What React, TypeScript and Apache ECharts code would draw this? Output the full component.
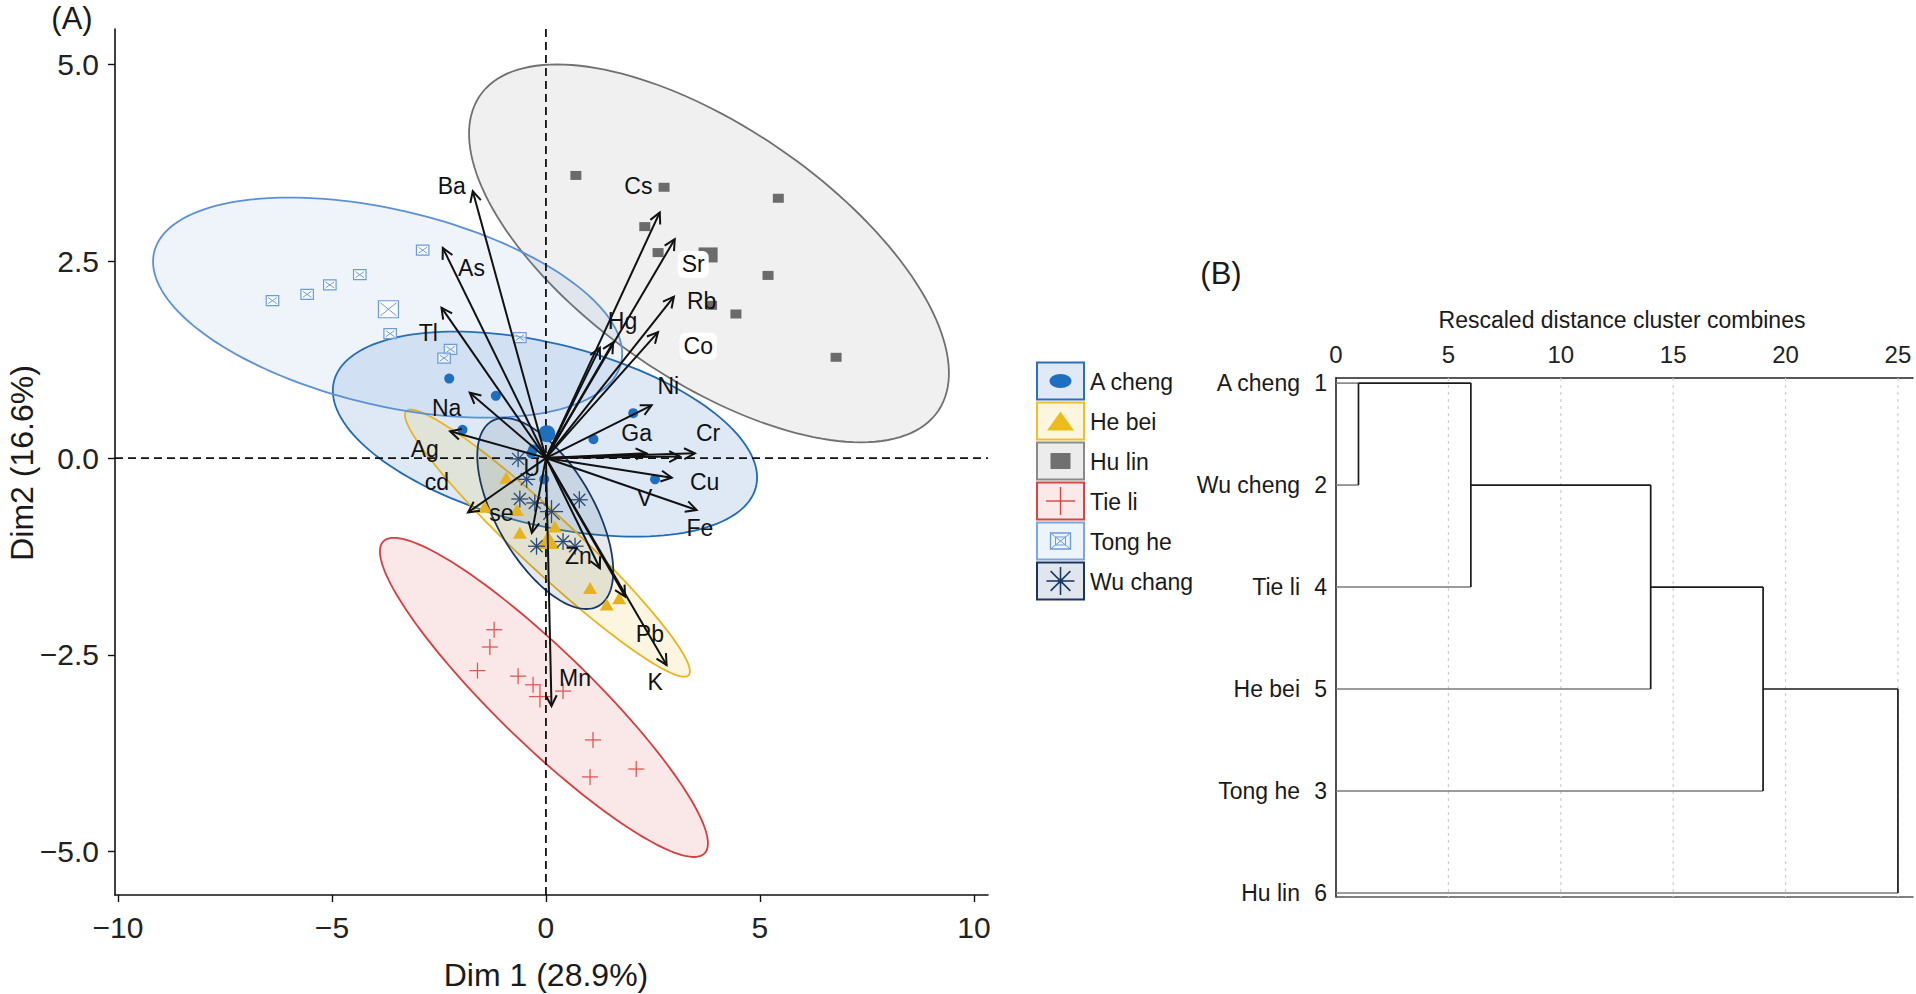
import React, { useEffect, useRef } from "react";
import * as echarts from "echarts";

const FONT = "'Liberation Sans', Arial, Helvetica, sans-serif";

// ---------- Panel A: PCA biplot ----------
const groupNames = ["A cheng", "He bei", "Hu lin", "Tie li", "Tong he", "Wu chang"];
const pointColors = ["#1f6fc0", "#e6b31e", "#6b6b6b", "#dc5a56", "#6d9bd8", "#2b4b75"];
const ellipseStroke = ["#1f6bb5", "#e9b41f", "#707070", "#d23f3f", "#5b90d8", "#1b3865"];
const ellipseFill = [
  "rgba(31,110,190,0.15)",
  "rgba(236,200,60,0.16)",
  "rgba(120,120,120,0.11)",
  "rgba(215,60,60,0.12)",
  "rgba(100,150,215,0.10)",
  "rgba(30,56,100,0.11)",
];

const aChengPoints = [[-2.26, 1.01], [-1.17, 0.79], [-1.95, 0.36], [2.04, 0.57], [1.11, 0.24], [-0.3, 0.11], [-0.34, 0.06], [2.55, -0.27], [-0.04, -0.27]];
const aChengMean = [0.02, 0.31];
const heBeiPoints = [[-0.93, -0.25], [-0.61, -0.95], [0.21, -0.87], [1.03, -1.65], [1.42, -1.86], [1.71, -1.78], [-0.68, -0.66], [-1.43, -0.62]];
const heBeiMean = [0.05, -1.04];
const huLinPoints = [[0.7, 3.59], [2.76, 3.44], [5.43, 3.3], [2.31, 2.94], [2.62, 2.61], [5.19, 2.32], [3.87, 1.94], [4.44, 1.83], [6.78, 1.28]];
const huLinMean = [3.79, 2.58];
const tieLiPoints = [[-1.21, -2.18], [-1.31, -2.4], [-1.6, -2.7], [-0.65, -2.77], [-0.3, -2.88], [0.4, -2.96], [1.1, -3.58], [1.03, -4.05], [2.11, -3.95]];
const tieLiMean = [-0.14, -3.03];
const tongHePoints = [[-6.39, 2.0], [-5.58, 2.08], [-5.05, 2.2], [-4.35, 2.33], [-2.88, 2.64], [-3.64, 1.58], [-2.23, 1.38], [-2.38, 1.27], [-0.61, 1.53]];
const tongHeMean = [-3.68, 1.89];
const wuChangPoints = [[-0.65, -0.01], [-0.61, -0.52], [-0.26, -0.57], [0.78, -0.53], [-0.22, -1.12], [0.4, -1.06], [0.68, -1.12], [-0.45, -0.27]];
const wuChangMean = [0.13, -0.68];

const groupPoints = [aChengPoints, heBeiPoints, huLinPoints, tieLiPoints, tongHePoints, wuChangPoints];
const groupMeans = [aChengMean, heBeiMean, huLinMean, tieLiMean, tongHeMean, wuChangMean];

// concentration ellipses: centre, conjugate semi-diameters (data units)
const ellipseCenters = [[-0.023, 0.304], [0.035, -1.081], [3.81, 2.6], [-0.047, -3.04], [-3.7, 1.911], [-0.016, -0.704]];
const ellipseTopVectors = [[-2.1, 1.302], [-3.196, 1.696], [-3.55, 2.4], [-3.505, 2.027], [-2.29, 1.398], [-0.958, 1.213]];
const ellipseSideVectors = [[4.49, 0], [0.935, 0], [4.34, 0], [1.55, 0], [4.98, 0], [1.267, 0]];

// variable arrows (tips) and labels
const arrowTips = [
  [-1.71, 3.39], [-2.41, 2.67], [-2.44, 1.91], [-1.78, 0.83], [-2.24, 0.34], [-1.82, -0.69], [-0.33, -0.95],
  [1.26, -1.4], [1.85, -1.76], [2.82, -2.63], [0.13, -3.15], [3.52, -0.66], [2.94, -0.25], [3.48, 0.06],
  [3.13, 0.02], [2.35, 0.06], [2.47, 0.67], [2.62, 1.6], [2.99, 2.05], [3.01, 2.78], [2.66, 3.12], [1.57, 1.47], [1.26, 1.4],
];
const varNames = ["Ba", "As", "Tl", "Na", "Ag", "cd", "se", "U", "Zn", "Pb", "K", "Mn", "Fe", "V", "Cu", "Cr", "Ga", "Ni", "Co", "Rb", "Sr", "Cs", "Hg"];
const varLabelPos = [
  [-2.2, 3.45], [-1.74, 2.42], [-2.75, 1.59], [-2.32, 0.64], [-2.83, 0.11], [-2.55, -0.3], [-1.04, -0.7], [-0.33, -0.13],
  [0.76, -1.25], [2.43, -2.24], [2.55, -2.84], [0.68, -2.79], [3.6, -0.89], [2.31, -0.51], [3.71, -0.3], [3.79, 0.32],
  [2.12, 0.32], [2.86, 0.91], [3.56, 1.42], [3.64, 1.99], [3.44, 2.46], [2.16, 3.45], [1.79, 1.74],
];
const whiteBoxLabels = ["Sr", "Co"];

const xTicks = [-10, -5, 0, 5, 10];
const yTicks = [-5, -2.5, 0, 2.5, 5];
const refLineX = [0];
const refLineY = [0];

// ---------- Panel B: dendrogram ----------
const leafNames = ["A cheng", "Wu cheng", "Tie li", "He bei", "Tong he", "Hu lin"];
const leafIds = ["1", "2", "4", "5", "3", "6"];
const leafJoinHeight = [1, 1, 6, 14, 19, 25];
const mergeHeights = [1, 6, 14, 19, 25];
const mergeTopRow = [0, 0, 1, 2, 3];
const mergeBottomRow = [1, 2, 3, 4, 5];
const dendroTicks = [0, 5, 10, 15, 20, 25];
const dendroGrid = [5, 10, 15, 20, 25];
const rowMin = -0.05;
const rowMax = 5.04;

const MINUS = "\u2212";
const fmtNum = (v: number, d: number) => (v < 0 ? MINUS + Math.abs(v).toFixed(d) : v.toFixed(d));

function line(x1: number, y1: number, x2: number, y2: number, stroke: string, lw: number) {
  return { type: "line", shape: { x1, y1, x2, y2 }, style: { stroke, lineWidth: lw } };
}

function marker(kind: number, cx: number, cy: number, big: boolean, color: string): any {
  if (kind === 0) {
    return { type: "circle", shape: { cx, cy, r: big ? 8.5 : 5 }, style: { fill: color } };
  }
  if (kind === 1) {
    const w = big ? 23 : 14, h = big ? 18 : 12;
    return { type: "polygon", shape: { points: [[cx, cy - h / 2], [cx + w / 2, cy + h / 2], [cx - w / 2, cy + h / 2]] }, style: { fill: color } };
  }
  if (kind === 2) {
    const w = big ? 19 : 11, h = big ? 15 : 9;
    return { type: "rect", shape: { x: cx - w / 2, y: cy - h / 2, width: w, height: h }, style: { fill: color } };
  }
  if (kind === 3) {
    const s = big ? 11 : 8;
    return { type: "group", children: [line(cx - s, cy, cx + s, cy, color, 1.3), line(cx, cy - s, cx, cy + s, color, 1.3)] };
  }
  if (kind === 4) {
    const w = big ? 20 : 12.5, h = big ? 17 : 10;
    const x0 = cx - w / 2, y0 = cy - h / 2;
    return {
      type: "group",
      children: [
        { type: "rect", shape: { x: x0, y: y0, width: w, height: h }, style: { fill: "rgba(255,255,255,0.6)", stroke: color, lineWidth: 1.2 } },
        line(x0 + 2, y0 + 2, x0 + w - 2, y0 + h - 2, color, 1),
        line(x0 + w - 2, y0 + 2, x0 + 2, y0 + h - 2, color, 1),
      ],
    };
  }
  const r = big ? 11.5 : 8.5;
  const ch: any[] = [];
  for (let k = 0; k < 4; k++) {
    const a = (k * Math.PI) / 4;
    ch.push(line(cx - r * Math.cos(a), cy - r * Math.sin(a), cx + r * Math.cos(a), cy + r * Math.sin(a), color, 1.3));
  }
  return { type: "group", children: ch };
}

function buildOption(): any {
  const series: any[] = [];

  // ellipses
  series.push({
    type: "custom",
    xAxisIndex: 0,
    yAxisIndex: 0,
    z: 1,
    silent: true,
    data: ellipseCenters.map((c, i) => [c[0], c[1], i]),
    renderItem: (params: any, api: any) => {
      const i = params.dataIndex;
      const c = ellipseCenters[i], a = ellipseTopVectors[i], b = ellipseSideVectors[i];
      const pts: number[][] = [];
      const n = 160;
      for (let k = 0; k < n; k++) {
        const t = (k / n) * 2 * Math.PI;
        pts.push(api.coord([c[0] + a[0] * Math.cos(t) + b[0] * Math.sin(t), c[1] + a[1] * Math.cos(t) + b[1] * Math.sin(t)]));
      }
      return { type: "polygon", shape: { points: pts }, style: { fill: ellipseFill[i], stroke: ellipseStroke[i], lineWidth: 1.8 } };
    },
  });

  // dashed reference lines at 0
  series.push({
    type: "custom",
    xAxisIndex: 0,
    yAxisIndex: 0,
    z: 2,
    silent: true,
    data: [[refLineX[0], refLineY[0]]],
    renderItem: (params: any, api: any) => {
      const cs = params.coordSys;
      const p = api.coord([api.value(0), api.value(1)]);
      const st = { stroke: "#111", lineWidth: 1.8, lineDash: [8, 5] };
      return {
        type: "group",
        children: [
          { type: "line", shape: { x1: p[0], y1: cs.y, x2: p[0], y2: cs.y + cs.height }, style: st },
          { type: "line", shape: { x1: cs.x, y1: p[1], x2: cs.x + cs.width, y2: p[1] }, style: st },
        ],
      };
    },
  });

  // individuals
  groupPoints.forEach((pts, g) => {
    const data = pts.map((p) => [p[0], p[1], 0]).concat([[groupMeans[g][0], groupMeans[g][1], 1]]);
    series.push({
      type: "custom",
      name: groupNames[g],
      xAxisIndex: 0,
      yAxisIndex: 0,
      z: 3,
      silent: true,
      data,
      renderItem: (params: any, api: any) => {
        const p = api.coord([api.value(0), api.value(1)]);
        return marker(g, p[0], p[1], api.value(2) === 1, pointColors[g]);
      },
    });
  });

  // arrows
  series.push({
    type: "custom",
    xAxisIndex: 0,
    yAxisIndex: 0,
    z: 4,
    silent: true,
    data: arrowTips,
    renderItem: (params: any, api: any) => {
      const o = api.coord([0, 0]);
      const t = api.coord([api.value(0), api.value(1)]);
      const ang = Math.atan2(t[1] - o[1], t[0] - o[0]);
      const L = 12, phi = (27 * Math.PI) / 180;
      const a1 = [t[0] - L * Math.cos(ang - phi), t[1] - L * Math.sin(ang - phi)];
      const a2 = [t[0] - L * Math.cos(ang + phi), t[1] - L * Math.sin(ang + phi)];
      const st = { stroke: "#111", lineWidth: 2, fill: null };
      return {
        type: "group",
        children: [
          { type: "line", shape: { x1: o[0], y1: o[1], x2: t[0], y2: t[1] }, style: st },
          { type: "polyline", shape: { points: [a1, t, a2] }, style: st },
        ],
      };
    },
  });

  // variable labels
  series.push({
    type: "custom",
    xAxisIndex: 0,
    yAxisIndex: 0,
    z: 5,
    silent: true,
    data: varLabelPos.map((p, i) => [p[0], p[1], i]),
    renderItem: (params: any, api: any) => {
      const p = api.coord([api.value(0), api.value(1)]);
      const name = varNames[api.value(2)];
      const style: any = { text: name, fontSize: 23, fontFamily: FONT, fill: "#111", align: "center", verticalAlign: "middle" };
      if (whiteBoxLabels.indexOf(name) >= 0) {
        style.backgroundColor = "#ffffff";
        style.padding = [2, 4];
        style.borderRadius = 6;
      }
      return { type: "text", x: p[0], y: p[1], style };
    },
  });

  // dendrogram
  const segs: number[][] = [];
  dendroGrid.forEach((t) => segs.push([t, rowMin, t, rowMax, 2]));
  leafJoinHeight.forEach((h, j) => segs.push([0, j, h, j, 0]));
  mergeHeights.forEach((h, i) => segs.push([h, mergeTopRow[i], h, mergeBottomRow[i], 1]));
  for (let i = 0; i < mergeHeights.length - 1; i++) {
    segs.push([mergeHeights[i], mergeTopRow[i + 1], mergeHeights[i + 1], mergeTopRow[i + 1], 1]);
  }
  series.push({
    type: "custom",
    xAxisIndex: 1,
    yAxisIndex: 1,
    z: 3,
    silent: true,
    data: segs,
    renderItem: (params: any, api: any) => {
      const p1 = api.coord([api.value(0), api.value(1)]);
      const p2 = api.coord([api.value(2), api.value(3)]);
      const kind = api.value(4);
      const style =
        kind === 2
          ? { stroke: "#cfcfcf", lineWidth: 1.2, lineDash: [3, 4] }
          : kind === 0
          ? { stroke: "#7a7a7a", lineWidth: 1.5 }
          : { stroke: "#1a1a1a", lineWidth: 1.7 };
      return { type: "line", shape: { x1: p1[0], y1: p1[1], x2: p2[0], y2: p2[1] }, style };
    },
  });

  // legend (graphic)
  const legendFill = ["#dfeaf6", "#fdf6de", "#ececec", "#fbe9e9", "#edf3fb", "#e1e6ee"];
  const legendBorder = ["#2c6fbf", "#efbe2c", "#8a8a8a", "#d64545", "#7ca6dd", "#1c3560"];
  const graphics: any[] = [];
  groupNames.forEach((name, i) => {
    const x0 = 1037, y0 = 362.5 + 40 * i, w = 47, h = 37;
    const cx = x0 + w / 2, cy = y0 + h / 2;
    graphics.push({ type: "rect", shape: { x: x0, y: y0, width: w, height: h }, style: { fill: legendFill[i], stroke: legendBorder[i], lineWidth: 2 } });
    let icon: any[] = [];
    if (i === 0) icon = [{ type: "ellipse", shape: { cx, cy, rx: 11, ry: 7 }, style: { fill: "#1f6fc0" } }];
    if (i === 1) icon = [{ type: "polygon", shape: { points: [[cx, cy - 9.5], [cx + 13.5, cy + 9.5], [cx - 13.5, cy + 9.5]] }, style: { fill: "#ecbc1c" } }];
    if (i === 2) icon = [{ type: "rect", shape: { x: cx - 10, y: cy - 8, width: 20, height: 16 }, style: { fill: "#707070" } }];
    if (i === 3)
      icon = [
        { type: "line", shape: { x1: cx - 14.5, y1: cy, x2: cx + 14.5, y2: cy }, style: { stroke: "#d64545", lineWidth: 1.4 } },
        { type: "line", shape: { x1: cx, y1: cy - 14, x2: cx, y2: cy + 14 }, style: { stroke: "#d64545", lineWidth: 1.4 } },
      ];
    if (i === 4)
      icon = [
        { type: "rect", shape: { x: cx - 10, y: cy - 8, width: 20, height: 16 }, style: { fill: "none", stroke: "#6d9bd8", lineWidth: 1.3 } },
        { type: "rect", shape: { x: cx - 5, y: cy - 4, width: 10, height: 8 }, style: { fill: "none", stroke: "#6d9bd8", lineWidth: 1 } },
        { type: "line", shape: { x1: cx - 10, y1: cy - 8, x2: cx + 10, y2: cy + 8 }, style: { stroke: "#6d9bd8", lineWidth: 1 } },
        { type: "line", shape: { x1: cx + 10, y1: cy - 8, x2: cx - 10, y2: cy + 8 }, style: { stroke: "#6d9bd8", lineWidth: 1 } },
      ];
    if (i === 5) {
      for (let k = 0; k < 4; k++) {
        const a = (k * Math.PI) / 4;
        icon.push({ type: "line", shape: { x1: cx - 14 * Math.cos(a), y1: cy - 14 * Math.sin(a), x2: cx + 14 * Math.cos(a), y2: cy + 14 * Math.sin(a) }, style: { stroke: "#1c3a66", lineWidth: 1.6 } });
      }
      icon.push({ type: "circle", shape: { cx, cy, r: 2.6 }, style: { fill: "#1c3a66" } });
    }
    graphics.push(...icon);
    graphics.push({ type: "text", x: 1090, y: cy + 1, style: { text: name, fontSize: 23, fontFamily: FONT, fill: "#1a1a1a", verticalAlign: "middle", align: "left" } });
  });

  graphics.push({ type: "text", x: 72, y: 18, style: { text: "(A)", fontSize: 31, fontFamily: FONT, fill: "#1a1a1a", align: "center", verticalAlign: "middle" } });
  graphics.push({ type: "text", x: 1221, y: 273, style: { text: "(B)", fontSize: 31, fontFamily: FONT, fill: "#1a1a1a", align: "center", verticalAlign: "middle" } });
  graphics.push({ type: "text", x: 546, y: 975, style: { text: "Dim 1 (28.9%)", fontSize: 32, fontFamily: FONT, fill: "#1a1a1a", align: "center", verticalAlign: "middle" } });
  graphics.push({ type: "text", x: 22, y: 463, rotation: Math.PI / 2, style: { text: "Dim2 (16.6%)", fontSize: 32, fontFamily: FONT, fill: "#1a1a1a", align: "center", verticalAlign: "middle" } });
  graphics.push({ type: "text", x: 1622, y: 320, style: { text: "Rescaled distance cluster combines", fontSize: 23, fontFamily: FONT, fill: "#1a1a1a", align: "center", verticalAlign: "middle" } });

  const axisLineA = { show: true, onZero: false, lineStyle: { color: "#111", width: 1.6 } };

  return {
    animation: false,
    backgroundColor: "#ffffff",
    grid: [
      { left: 115, top: 29, width: 873, height: 866 },
      { left: 1336, top: 378, width: 577, height: 519 },
    ],
    xAxis: [
      {
        gridIndex: 0,
        type: "value",
        min: -10.07,
        max: 10.33,
        axisLine: axisLineA,
        axisTick: { show: true, length: 7, customValues: xTicks, lineStyle: { color: "#111", width: 1.4 } },
        axisLabel: { customValues: xTicks, formatter: (v: number) => fmtNum(v, 0), fontSize: 30, fontFamily: FONT, color: "#222", margin: 17 },
        splitLine: { show: false },
      },
      {
        gridIndex: 1,
        type: "value",
        position: "top",
        min: 0,
        max: 25.67,
        axisLine: { show: true, onZero: false, lineStyle: { color: "#222", width: 1.6 } },
        axisTick: { show: false },
        axisLabel: { customValues: dendroTicks, fontSize: 24, fontFamily: FONT, color: "#222", margin: 12 },
        splitLine: { show: false },
      },
      {
        gridIndex: 1,
        type: "value",
        position: "bottom",
        min: 0,
        max: 25.67,
        axisLine: { show: true, onZero: false, lineStyle: { color: "#555", width: 1.5 } },
        axisTick: { show: false },
        axisLabel: { show: false },
        splitLine: { show: false },
      },
    ],
    yAxis: [
      {
        gridIndex: 0,
        type: "value",
        min: -5.55,
        max: 5.45,
        axisLine: axisLineA,
        axisTick: { show: true, length: 7, customValues: yTicks, lineStyle: { color: "#111", width: 1.4 } },
        axisLabel: { customValues: yTicks, formatter: (v: number) => fmtNum(v, 1), fontSize: 30, fontFamily: FONT, color: "#222", margin: 16 },
        splitLine: { show: false },
      },
      {
        gridIndex: 1,
        type: "value",
        inverse: true,
        min: rowMin,
        max: rowMax,
        axisLine: { show: true, onZero: false, lineStyle: { color: "#222", width: 1.6 } },
        axisTick: { show: false },
        axisLabel: {
          customValues: [0, 1, 2, 3, 4, 5],
          margin: 9,
          formatter: (v: number) => {
            const i = Math.round(v);
            if (Math.abs(v - i) > 1e-6 || i < 0 || i > 5) return "";
            return "{n|" + leafNames[i] + "}{d|" + leafIds[i] + "}";
          },
          rich: {
            n: { fontSize: 23, fontFamily: FONT, color: "#1a1a1a" },
            d: { fontSize: 23, fontFamily: FONT, color: "#1a1a1a", width: 27, align: "right" },
          },
        },
        splitLine: { show: false },
      },
    ],
    graphic: graphics,
    series,
  };
}

export default function App() {
  const ref = useRef<HTMLDivElement>(null);
  useEffect(() => {
    if (!ref.current) return;
    const chart = echarts.init(ref.current, undefined, { renderer: "svg" });
    chart.setOption(buildOption());
    return () => chart.dispose();
  }, []);
  return <div ref={ref} style={{ position: "fixed", left: 0, top: 0, width: 1916, height: 994, background: "#fff" }} />;
}
